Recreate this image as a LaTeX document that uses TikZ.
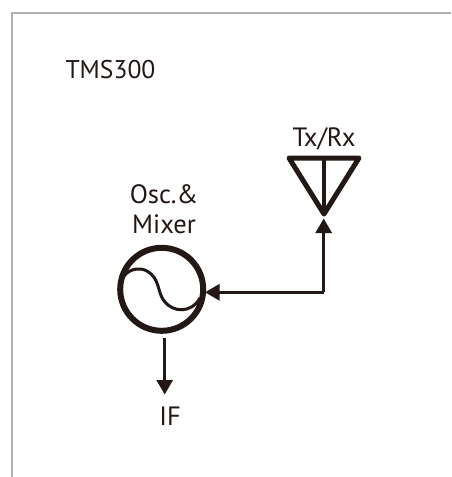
\documentclass[tikz,border=0pt]{standalone}
\usepackage{fontspec}
\setmainfont{PT Sans}
\usetikzlibrary{arrows.meta}
\definecolor{ink}{HTML}{231815}
\definecolor{frameline}{HTML}{B0B0B0}
\tikzset{
  x=1pt,y=-1pt,
  label text/.style={text=ink,font=\fontsize{26.5}{32}\selectfont,inner sep=0pt,outer sep=0pt,anchor=base,align=center},
  conn/.style={draw=ink,line width=2.8pt,-{Triangle[length=14.5pt,width=16pt]}},
  sym/.style={draw=ink,line join=round,line cap=round}
}
\begin{document}
\begin{tikzpicture}
\useasboundingbox (0,0) rectangle (451,477);
\fill[white] (0,0) rectangle (451,477);
\coordinate (fa) at (12,477);
\coordinate (fb) at (12,12.5);
\coordinate (fc) at (451,12.5);
\draw[frameline,line width=2pt] (fa) -- (fb) -- (fc);
\node[label text,anchor=base west,font=\fontsize{25.6}{32}\selectfont] (title) at (65.5,78) {TMS300};
\node[label text] (txrx) at (324,146) {Tx/Rx};
\node[label text] (osc1) at (164,203.5) {Osc.\&};
\node[label text] (osc2) at (164,233.5) {Mixer};
\node[label text] (if) at (170,425) {IF};
% antenna
\coordinate (al) at (289,158);
\coordinate (ar) at (359,158);
\coordinate (apex) at (324,214);
\coordinate (atop) at (324,158);
\draw[sym,line width=5pt] (al) -- (ar) -- (apex) -- cycle;
\draw[sym,line width=3.2pt] (atop) -- (apex);
% oscillator
\node[circle,draw=ink,line width=6pt,minimum size=83pt,inner sep=0pt,outer sep=0pt] (mix) at (161.7,289.3) {};
\draw[draw=ink,line width=3pt] (124,276) .. controls (130,268) and (143,266) .. (151,274)
  .. controls (160,282) and (158,295) .. (165,302)
  .. controls (173,312) and (191,314) .. (200,298);
% connectors
\coordinate (junction) at (323.7,292.3);
\coordinate (mixin) at (205,292.3);
\coordinate (antin) at (323.7,218.5);
\coordinate (ifout) at (164.7,338);
\coordinate (ifend) at (164.7,394.5);
\draw[conn] (junction) -- (mixin);
\draw[conn] (junction) -- (antin);
\draw[conn] (ifout) -- (ifend);
\end{tikzpicture}
\end{document}
